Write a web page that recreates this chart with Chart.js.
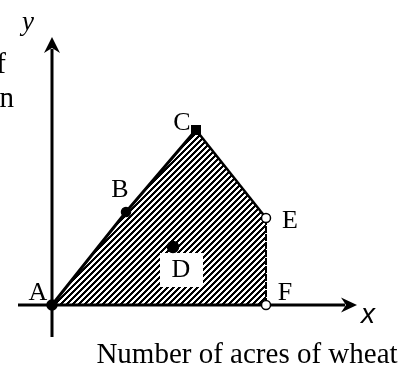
<!DOCTYPE html>
<html>
<head>
<meta charset="utf-8">
<script src="https://cdn.jsdelivr.net/npm/chart.js@4"></script>
<style>
  body { margin: 0; background: #fff; }
</style>
</head>
<body>
<canvas id="regionChart" width="405" height="372"></canvas>
<script>
// --- Data (1 unit ~ 10px): ---
const pointNames = ['A', 'B', 'C', 'D', 'E', 'F'];
const pointX = [0, 7.4, 14.4, 12.1, 21.4, 21.4];
const pointY = [0, 9.3, 17.5, 5.8, 8.7, 0];
// boundary of the shaded region, walked A -> B -> C -> E -> F
const regionOrder = ['A', 'B', 'C', 'E', 'F'];
const axisXRange = [-3.4, 30.5];
const axisYRange = [-3.2, 26.8];
const xAxisTitle = 'Number of acres of wheat';
const yAxisTitle = ['Number of acres of', 'corn'];

// label placement around each point (pixels, text baseline)
const labelOffsets = {
  A: [-14, -5], B: [-6, -15], C: [-14, 0], D: [8, 30], E: [24, 10], F: [19, -5]
};

// crisp hatch pattern "////", drawn pixel by pixel
const makeHatch = () => {
  const s = 6;
  const c = document.createElement('canvas');
  c.width = s; c.height = s;
  const g = c.getContext('2d');
  g.fillStyle = '#000';
  for (let i = 0; i < s; i++)
    for (let j = 0; j < s; j++)
      if ((i + j) % s >= s - 3)
        g.fillRect(i, j, 1, 1);
  return g.createPattern(c, 'repeat');
};

const pointAt = name => {
  const i = pointNames.indexOf(name);
  return { x: pointX[i], y: pointY[i] };
};

const arrowHead = (ctx, tx, ty, dir) => {
  ctx.beginPath();
  if (dir === 'right') {
    ctx.moveTo(tx, ty);
    ctx.lineTo(tx - 16, ty - 7.5);
    ctx.lineTo(tx - 11, ty);
    ctx.lineTo(tx - 16, ty + 7.5);
  } else {
    ctx.moveTo(tx, ty);
    ctx.lineTo(tx - 8, ty + 16);
    ctx.lineTo(tx, ty + 11);
    ctx.lineTo(tx + 8, ty + 16);
  }
  ctx.closePath();
  ctx.fill();
};

// axes, white patch behind D, and all the text
const sketchPlugin = {
  id: 'sketch',
  afterDatasetDraw(chart, args) {
    if (args.index !== 0) return;
    const ctx = chart.ctx;
    const xs = chart.scales.x, ys = chart.scales.y;
    const x0 = xs.getPixelForValue(0), y0 = ys.getPixelForValue(0);
    ctx.save();
    // patch behind the D label
    const d = pointAt('D');
    const dx = xs.getPixelForValue(d.x), dy = ys.getPixelForValue(d.y);
    ctx.fillStyle = '#fff';
    ctx.fillRect(dx - 13, dy + 6, 43, 34);
    // axes
    ctx.strokeStyle = '#000';
    ctx.fillStyle = '#000';
    ctx.lineWidth = 3;
    const xTip = xs.getPixelForValue(axisXRange[1]);
    const yTip = ys.getPixelForValue(axisYRange[1]);
    ctx.beginPath();
    ctx.moveTo(xs.getPixelForValue(axisXRange[0]), y0);
    ctx.lineTo(xTip - 12, y0);
    ctx.moveTo(x0, ys.getPixelForValue(axisYRange[0]));
    ctx.lineTo(x0, yTip + 12);
    ctx.stroke();
    arrowHead(ctx, xTip, y0, 'right');
    arrowHead(ctx, x0, yTip, 'up');
    ctx.restore();
  },
  afterDatasetsDraw(chart) {
    const ctx = chart.ctx;
    const xs = chart.scales.x, ys = chart.scales.y;
    ctx.save();
    ctx.fillStyle = '#000';
    ctx.textBaseline = 'alphabetic';
    ctx.textAlign = 'center';
    ctx.font = '26px "Liberation Serif"';
    pointNames.forEach((name, i) => {
      const off = labelOffsets[name];
      ctx.fillText(name, xs.getPixelForValue(pointX[i]) + off[0], ys.getPixelForValue(pointY[i]) + off[1]);
    });
    // x axis title
    ctx.font = '29px "Liberation Serif"';
    ctx.fillText(xAxisTitle, 247, 363);
    // y axis title, cut off at the left edge
    ctx.textAlign = 'right';
    ctx.fillText(yAxisTitle[0], 6, 73);
    ctx.fillText(yAxisTitle[1], 14, 107);
    // axis letters
    ctx.textAlign = 'left';
    ctx.font = 'italic 27px "Liberation Serif"';
    ctx.fillText('y', 22, 30);
    ctx.font = 'italic 28px "Liberation Sans"';
    ctx.fillText('x', 361, 323);
    ctx.restore();
  }
};

const createRegionChart = () => {
  const ctx = document.querySelector('#regionChart').getContext('2d');
  new Chart(ctx, {
    type: 'scatter',
    data: {
      datasets: [
        {
          label: 'region',
          data: regionOrder.map(pointAt),
          showLine: true,
          fill: 'origin',
          backgroundColor: makeHatch(),
          borderColor: '#000',
          borderWidth: 3,
          pointRadius: 0,
          order: 1,
          segment: {
            borderDash: c => c.p0DataIndex === 3 ? [5, 3] : undefined,
            borderWidth: c => c.p0DataIndex === 2 ? 2.5 : (c.p0DataIndex === 3 ? 2 : 3)
          }
        },
        {
          label: 'points',
          data: pointNames.map(pointAt),
          pointStyle: ['circle', 'circle', 'rect', 'circle', 'circle', 'circle'],
          pointRadius: [5, 4.5, 6, 5.5, 4.5, 4.5],
          pointBackgroundColor: ['#000', '#000', '#000', '#000', '#fff', '#fff'],
          pointBorderColor: '#000',
          pointBorderWidth: 1.5,
          order: 0
        }
      ]
    },
    options: {
      responsive: false,
      animation: false,
      layout: { padding: 0, autoPadding: false },
      plugins: {
        legend: { display: false },
        tooltip: { enabled: false }
      },
      scales: {
        x: { type: 'linear', min: -5.2, max: 35.3, display: false },
        y: { type: 'linear', min: -6.7, max: 30.5, display: false }
      }
    },
    plugins: [sketchPlugin]
  });
};

createRegionChart();
</script>
</body>
</html>
